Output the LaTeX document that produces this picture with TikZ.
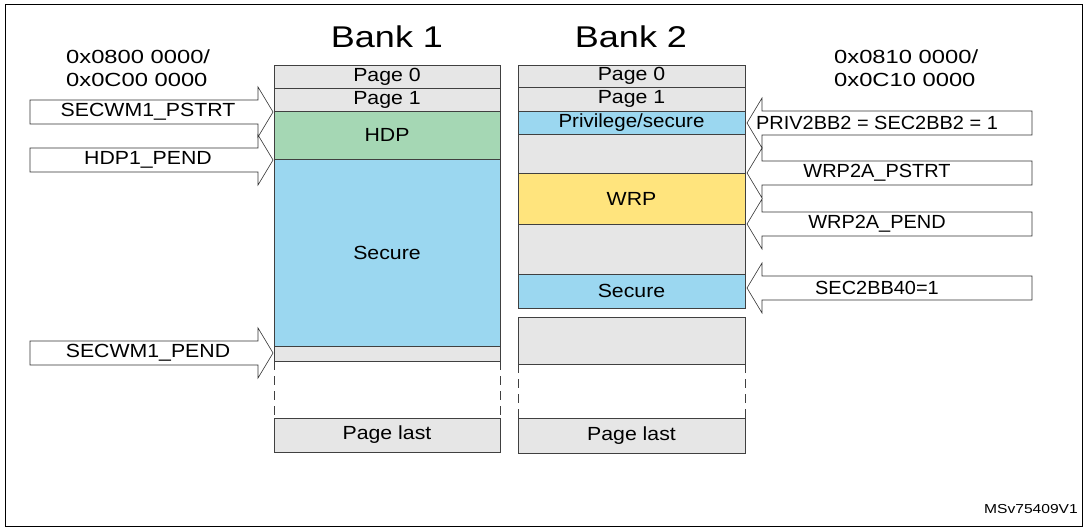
\documentclass[tikz,border=0pt]{standalone}
\usepackage{fontspec}
\setmainfont{Liberation Sans}
\newcommand\sxw[2]{\scalebox{#1}[1]{#2}}
\begin{document}
\begin{tikzpicture}[x=1pt,y=-1pt,
  blk/.style={draw=black!75,line width=0.8pt},
  lbl/.style={font=\fontsize{19}{21}\selectfont,inner sep=0pt},
  arr/.style={draw=black!80,line width=0.6pt,fill=white}]
\useasboundingbox (0,0) rectangle (1087,527);
\draw[line width=1pt] (5,5) rectangle (1082,526);
\definecolor{gr}{RGB}{230,230,230}
\definecolor{gn}{RGB}{165,215,180}
\definecolor{bl}{RGB}{155,215,240}
\definecolor{yl}{RGB}{255,228,125}
\node[font=\fontsize{30}{32}\selectfont] (b1) at (387,37) {\sxw{1.2}{Bank 1}};
\node[font=\fontsize{30}{32}\selectfont] (b2) at (631,37) {\sxw{1.2}{Bank 2}};
\node[lbl,anchor=west] (a1) at (66,57) {\sxw{1.25}{0x0800 0000/}};
\node[lbl,anchor=west] (a1b) at (66,80) {\sxw{1.25}{0x0C00 0000}};
\node[lbl,anchor=west] (a2) at (834,57) {\sxw{1.25}{0x0810 0000/}};
\node[lbl,anchor=west] (a2b) at (834,80) {\sxw{1.25}{0x0C10 0000}};
% bank 1
\draw[blk,fill=gr] (274,65) rectangle node[lbl] (p0a) {\sxw{1.12}{Page 0}} (500,88);
\draw[blk,fill=gr] (274,88) rectangle node[lbl] (p1a) {\sxw{1.12}{Page 1}} (500,111);
\draw[blk,fill=gn] (274,111) rectangle node[lbl] (hdp) {\sxw{1.12}{HDP}} (500,159);
\draw[blk,fill=bl] (274,159) rectangle node[lbl] (sec1) {\sxw{1.12}{Secure}} (500,346);
\draw[blk,fill=gr] (274,346) rectangle (500,361);
\draw[blk,dashed,dash pattern=on 9pt off 6pt] (274,361)--(274,418) (500,361)--(500,418);
\draw[blk,fill=gr] (274,418) rectangle node[lbl] (pla) {\sxw{1.12}{Page last}} (500,452);
% bank 2
\draw[blk,fill=gr] (518,65) rectangle node[lbl] (p0b) {\sxw{1.12}{Page 0}} (745,87);
\draw[blk,fill=gr] (518,87) rectangle node[lbl] (p1b) {\sxw{1.12}{Page 1}} (745,111);
\draw[blk,fill=bl] (518,111) rectangle node[lbl] (priv) {\sxw{1.08}{Privilege/secure}} (745,134);
\draw[blk,fill=gr] (518,134) rectangle (745,173);
\draw[blk,fill=yl] (518,173) rectangle node[lbl] (wrp) {\sxw{1.12}{WRP}} (745,224);
\draw[blk,fill=gr] (518,224) rectangle (745,274);
\draw[blk,fill=bl] (518,274) rectangle node[lbl] (sec2) {\sxw{1.12}{Secure}} (745,308);
\draw[blk,fill=gr] (518,317) rectangle (745,364);
\draw[blk,dashed,dash pattern=on 9pt off 6pt] (518,364)--(518,418) (745,364)--(745,418);
\draw[blk,fill=gr] (518,418) rectangle node[lbl] (plb) {\sxw{1.12}{Page last}} (745,453);
% left arrows
\foreach \y/\t/\n in {112/SECWM1\_PSTRT/la, 160/HDP1\_PEND/lb, 353/SECWM1\_PEND/lc}{
  \draw[arr] (30,\y-12)--(258,\y-12)--(258,\y-25)--(273,\y)--(258,\y+25)--(258,\y+12)--(30,\y+12)--cycle;
  \node[lbl] (\n) at (148,\y) {\sxw{1.12}{\t}};
}
% right arrows
\foreach \y/\t/\n in {123/PRIV2BB2 = SEC2BB2 = 1/ra, 173/WRP2A\_PSTRT/rb, 224/WRP2A\_PEND/rc, 288/SEC2BB40=1/rd}{
  \draw[arr] (1032,\y-12)--(762,\y-12)--(762,\y-25)--(747,\y)--(762,\y+25)--(762,\y+12)--(1032,\y+12)--cycle;
  \node[lbl] (\n) at (877,\y) {\sxw{1.05}{\t}};
}
\node[font=\fontsize{13}{15}\selectfont] (id) at (1031,509) {\sxw{1.2}{MSv75409V1}};
\end{tikzpicture}
\end{document}
